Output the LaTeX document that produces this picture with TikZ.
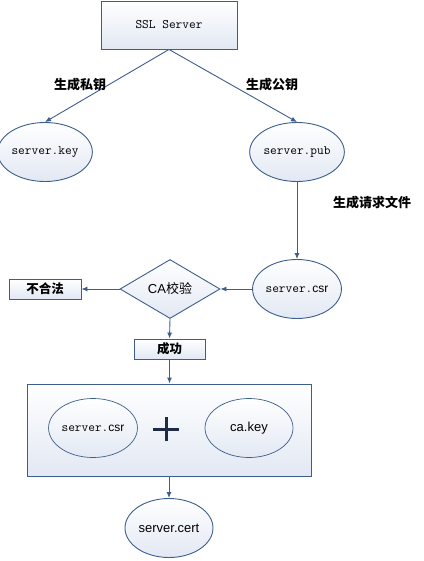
\documentclass[tikz,border=0pt]{standalone}
\usepackage{fontspec}
\setmainfont{Liberation Sans}
\newfontfamily\cjk{Noto Sans CJK SC}
\newcommand\monof{\ttfamily\fontsize{13}{13}\selectfont}
\usetikzlibrary{shapes.geometric,arrows.meta}
\definecolor{edge}{RGB}{61,94,140}
\definecolor{fillb}{RGB}{226,232,243}
\definecolor{plusc}{RGB}{30,42,72}
\tikzset{
  shade/.style={top color=white,bottom color=fillb,draw=edge,line width=0.9pt},
  boxn/.style={shade,rectangle,inner sep=0pt},
  ell/.style={shade,ellipse,minimum width=88pt,minimum height=59pt,inner sep=0pt,font=\fontsize{12}{12}\selectfont},
  conn/.style={draw=edge,line width=0.9pt,-{Latex[length=6pt,width=5pt]}},
  lab/.style={font=\cjk\bfseries\fontsize{13}{13}\selectfont,inner sep=0pt},
}
\begin{document}
\begin{tikzpicture}[x=1pt,y=-1pt]
\useasboundingbox (0,0) rectangle (423,561);
\node[boxn,minimum width=136pt,minimum height=48pt,font=\monof] (ssl) at (169,25) {SSL Server};
\node[ell,font=\monof] (key) at (45,152) {server.key};
\node[ell,font=\monof] (pub) at (297,152) {server.pub};
\node[ell] (csr) at (297,289) {{\monof server.}csr};
\node[shade,diamond,aspect=1.7,minimum width=100pt,minimum height=59pt,inner sep=0pt,font=\fontsize{13}{13}\selectfont] (ca) at (170,289) {CA{\cjk 校验}};
\node[boxn,minimum width=72pt,minimum height=20pt,font=\cjk\bfseries\fontsize{12.5}{12.5}\selectfont] (bad) at (45,289) {不合法};
\node[boxn,minimum width=71pt,minimum height=20pt,font=\cjk\bfseries\fontsize{12.5}{12.5}\selectfont] (ok) at (169.5,349) {成功};
\node[boxn,minimum width=284pt,minimum height=92pt] (big) at (169,430) {};
\node[ell,line width=0.7pt] (csr2) at (93,428) {{\monof server.}csr};
\node[ell,line width=0.7pt,font=\fontsize{13}{13}\selectfont] (cakey) at (249,428) {ca.key};
\node[ell,font=\fontsize{13}{13}\selectfont] (cert) at (169,528) {server.cert};
\coordinate (pc) at (166,429);
\draw[plusc,line width=3pt] ([xshift=-13pt]pc) -- ([xshift=13pt]pc);
\draw[plusc,line width=3pt] ([yshift=-12pt]pc) -- ([yshift=12pt]pc);
\draw[conn] (ssl.south) -- (key.north);
\draw[conn] (ssl.south) -- (pub.north);
\draw[conn] (pub.south) -- (csr.north);
\draw[conn] (csr.west) -- (ca.east);
\draw[conn] (ca.west) -- (bad.east);
\draw[conn] (ca.south) -- (ok.north);
\draw[conn] (ok.south) -- (ok.south |- big.north);
\draw[conn] (big.south -| cert.north) -- (cert.north);
\node[lab] (l1) at (80,85) {生成私钥};
\node[lab] (l2) at (272,85) {生成公钥};
\node[lab] (l3) at (372,203) {生成请求文件};
\end{tikzpicture}
\end{document}
